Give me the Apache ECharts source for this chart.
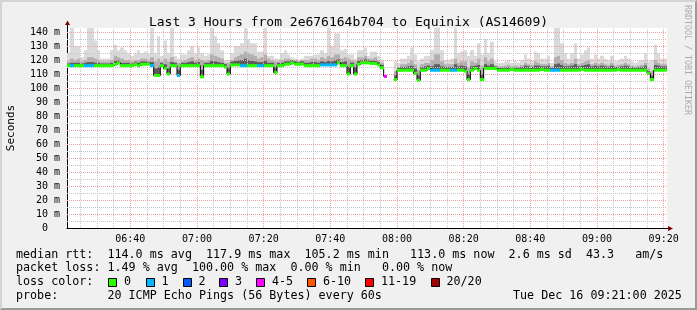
<!DOCTYPE html>
<html><head><meta charset="utf-8">
<script src="https://cdn.jsdelivr.net/npm/echarts@6/dist/echarts.min.js"></script>
<style>
html,body{margin:0;padding:0;background:#f0f0f0;}
#wrap{position:relative;width:697px;height:310px;overflow:hidden;}
#chart{width:697px;height:310px;}
#frame{position:absolute;left:0;top:0;width:697px;height:310px;box-sizing:border-box;border-top:2px solid #d4d4d4;border-left:2px solid #d4d4d4;border-right:2px solid #9a9a9a;border-bottom:2px solid #9a9a9a;pointer-events:none;}
</style></head>
<body><div id="wrap"><div id="chart"></div><div id="frame"></div></div>
<script>
// ---------- data ----------
const titleText = 'Last 3 Hours from 2e676164b704 to Equinix (AS14609)';
const startMinute = 381;   // 06:21, minutes since midnight
const endMinute = 561;     // 09:21
const xTickMinutes = [400, 420, 440, 460, 480, 500, 520, 540, 560];
const yTickValues = [0, 10, 20, 30, 40, 50, 60, 70, 80, 90, 100, 110, 120, 130, 140];
const yMax = 142.9;

// median rtt per minute (ms)
const median = [
  116,116,116,116,116,116,116,116,116,116,
  116,116,116,116,117,118,116,116,116,116,
  117,116,117,117,117,116,109,109,116,114,
  110,116,116,109,116,116,116,116,116,116,
  108,116,116,116,116,116,116,115,110,116.5,
  116.5,116.5,116,116,116,116,116,116,116,116,
  116,116,111,116,116,117,117,118,117,117,
  117,116,116,116,116,116,116.5,116.5,116.5,116.5,
  116.5,118,116,116,110,116,110,117,118,118,
  118,117.5,117.5,116.5,114.5,108.3,null,null,106,112.7,
  112.7,112.7,112.7,112.7,110.5,105.5,112.7,112.7,114,112.7,
  112.7,112.7,112.7,112.7,112.7,112.7,112.7,112.7,112.7,112,
  106,112.7,114,112.7,106,114,114,114,114,112.7,
  112.7,112.7,112.7,113.2,112.7,112.7,112.7,112.7,112.7,112.7,
  112.7,112.7,113.2,112.7,112.7,112.7,112.7,112.7,112.7,112.7,
  112.7,112.7,112.7,112.7,113.2,112.7,112.7,112.7,112.7,112.7,
  112.7,112.7,112.7,112.7,112.7,113.2,112.7,112.7,112.7,112.7,
  112.7,112.7,112.7,112.7,110.5,106,112.7,112.7,112.7,112.7
];
// lost pings (of 20) per minute
const loss = [
  0,1,0,0,0,1,1,1,0,0,
  0,0,0,0,0,0,0,0,0,0,
  0,0,0,0,0,1,0,0,0,0,
  0,0,0,1,0,0,0,0,0,0,
  0,0,0,0,0,0,0,0,0,0,
  0,0,1,1,0,0,0,1,1,0,
  0,0,0,0,0,0,0,0,0,0,
  0,0,0,0,0,0,1,1,1,1,
  1,0,0,0,0,0,0,0,0,0,
  0,0,0,0,0,4,20,20,0,0,
  0,0,0,0,0,0,0,0,0,1,
  1,1,0,0,0,1,1,0,0,0,
  0,0,0,0,0,0,0,0,0,0,
  0,0,0,0,0,0,0,0,0,0,
  0,0,0,0,0,1,1,1,0,0,
  0,0,0,0,0,0,0,0,0,0,
  0,0,0,0,0,0,0,0,0,0,
  0,0,0,0,0,0,0,0,0,0
];
// smoke: highest ping per minute (ms)
const smokeMax = [
  125,143,130,130,122,127,143,143,134,127,
  121,121,121,127,131,127,129,127,125,123,
  125,127,125,126,125,143,125,137,123,134,
  125,143,123,121,124,124,127,130,125,129,
  125,123,124,143,137,132,127,120,120,125,
  130,130,132,143,135,132,132,126,126,143,
  123,123,121,121,125,127,124,122,121,120,
  121,123,123,123,124,124,127,125,143,130,
  139,139,127,128,124,124,121,127,127,129,
  123,126,126,123,120,null,null,null,119,118,
  121,121,123,129,124,119,121,123,123,127,
  143,143,127,120,120,121,143,125,126,127,
  123,127,123,132,124,135,125,133,119,118,
  118,119,120,118,119,118,120,124,121,120,
  126,125,121,121,123,118,143,143,132,125,
  121,125,132,121,124,127,129,121,124,121,
  123,121,120,123,119,120,121,123,121,119,
  118,119,120,125,119,120,131,125,121,121
];
// smoke: upper-middle pings per minute (ms)
const smokeMid = [
  119,121,120,121,119,120,122,122,121,120,
  119,119,119,120,123,122,121,120,120,119,
  120,120,121,121,120,122,119,121,119,121,
  119,122,119,118,119,120,121,122,120,121,
  120,119,120,124,123,122,121,118,118,120,
  122,123,124,126,125,124,123,121,122,124,
  121,120,119,119,120,121,121,120,120,119,
  120,120,120,121,121,120,122,121,123,122,
  124,124,121,122,121,120,119,122,122,123,
  121,121,122,120,118,null,null,null,112,115,
  117,117,118,120,117,113,117,118,118,120,
  124,124,119,117,117,117,121,118,119,119,
  115,119,118,121,116,122,119,121,116,115.5,
  115.5,116,116.5,115.5,116,115.5,116.5,118,117,116.5,
  119,118,117,117,118,115.5,122,123,120,118,
  117,118,121,117,118,119,120,117,118,117,
  118,117,116.5,118,116,116.5,117,118,117,116,
  115.5,116,116.5,118,114,112,120,118,117,117
];
// smoke: pings just above the median per minute (ms)
const smokeDark = [
  117.5,118,118,118,117.5,118,118.5,118.5,118,118,
  117.5,117.5,117.5,118,119.5,120,118,118,118,117.5,
  118.5,118,119,119,118.5,118.5,114,115,118,117,
  114,118.5,118,113,118,118,118.5,119,118,118.5,
  113,118,118,119.5,119,118.5,118,117,114,119,
  119.5,120,120,121,120,119.5,119,118.5,118.5,119.5,
  118,118,115,118,118,119,119,120,119,118.5,
  119,118,118,118.5,118.5,118,119,118.5,119.5,119,
  120,120.5,118.5,119,115,118,115,119.5,120,120.5,
  120,119.5,119.5,118.5,116.5,null,null,null,109,114.5,
  115,115,115.5,116,114,109,115,115.5,116,115.5,
  117,117,115.5,115,115,115,117,115.5,116,115.5,
  110,115.5,116,116.5,110,117,116,117,115.5,114.5,
  114.5,114.5,115,114.5,114.5,114.5,115,116,115.5,115,
  116,116,115.5,115.5,116,114.5,117,117.5,116.5,115.5,
  115.5,116,117,115.5,116,116.5,117,115.5,116,115.5,
  116,115.5,115,116,115,115,115.5,116,115.5,115,
  114.5,115,115,116,112,109,116.5,116,115.5,115.5
];
const lossLabels = ['0', '1', '2', '3', '4-5', '6-10', '11-19', '20/20'];
const lossColors = ['#26ff00', '#00b8ff', '#0059ff', '#7e00ff', '#ff00ff', '#ff5500', '#ff0000', '#a10000'];
const statsLines = [
  'median rtt:  114.0 ms avg  117.9 ms max  105.2 ms min   113.0 ms now  2.6 ms sd  43.3   am/s',
  'packet loss: 1.49 % avg  100.00 % max  0.00 % min   0.00 % now',
  'loss color:',
  'probe:       20 ICMP Echo Pings (56 Bytes) every 60s'
];
const dateText = 'Tue Dec 16 09:21:00 2025';
const creditText = 'RRDTOOL / TOBI OETIKER';

// ---------- helpers ----------
const MONO = '"DejaVu Sans Mono", "Liberation Mono", monospace';
function lossClass(l) {
  if (l <= 3) return l;
  if (l <= 5) return 4;
  if (l <= 10) return 5;
  if (l <= 19) return 6;
  return 7;
}
const fmtTime = m => String(Math.floor(m / 60)).padStart(2, '0') + ':' + String(m % 60).padStart(2, '0');

const rows = median.map((m, i) => [startMinute + i, m == null ? '-' : m, smokeMax[i] == null ? '-' : smokeMax[i],
  smokeMid[i] == null ? '-' : smokeMid[i], smokeDark[i] == null ? '-' : smokeDark[i], loss[i]]);
const lineData = median.map((m, i) => [startMinute + i, m]).concat([[endMinute, median[median.length - 1]]]);

function renderSmoke(params, api) {
  const t = api.value(0), med = api.value(1), mx = api.value(2), md = api.value(3), dk = api.value(4);
  if (!isFinite(med) || !isFinite(mx)) return null;
  const cs = params.coordSys;
  const x0 = Math.round(api.coord([t, med])[0]);
  const x1 = Math.round(api.coord([t + 1, med])[0]);
  const yMed = api.coord([t, med])[1];
  const top = v => Math.max(cs.y, api.coord([t, v])[1]);
  const yMx = top(mx), yMd = top(md), yDk = top(dk);
  return {
    type: 'group',
    children: [
      { type: 'rect', shape: { x: x0, y: yMx, width: x1 - x0, height: yMed - yMx }, style: { fill: '#dadada' } },
      { type: 'rect', shape: { x: x0, y: yMd, width: x1 - x0, height: yMed - yMd }, style: { fill: '#b0b0b0' } },
      { type: 'rect', shape: { x: x0, y: yDk, width: x1 - x0, height: yMed - yDk }, style: { fill: '#5c5c5c' } }
    ]
  };
}
function renderBand(params, api) {
  const t = api.value(0), med = api.value(1), l = api.value(5);
  if (!isFinite(med)) return null;
  const p0 = api.coord([t, med]), p1 = api.coord([t + 1, med]);
  const x0 = Math.round(p0[0]), x1 = Math.round(p1[0]);
  return { type: 'rect', shape: { x: x0, y: p0[1] - 1.5, width: x1 - x0, height: 3 },
    style: { fill: lossColors[lossClass(l)] } };
}

const xMinor = [], xMajor = [], yMinor = [], yMajor = [];
for (let m = 385; m < endMinute; m += 5) (m % 20 === 0 ? xMajor : xMinor).push(m);
for (let v = 5; v < yMax; v += 5) (v % 10 === 0 ? yMajor : yMinor).push(v);
const gridLine = (xs, ys, color) => ({
  type: 'line', data: [], silent: true, z: 2,
  markLine: {
    silent: true, symbol: ['none', 'none'], label: { show: false }, animation: false, z: 2,
    lineStyle: { color: color, width: 1, type: [1, 1], opacity: 1 },
    emphasis: { disabled: true },
    data: xs.map(v => ({ xAxis: v })).concat(ys.map(v => ({ yAxis: v })))
  }
});

const option = {
  animation: false,
  backgroundColor: '#f0f0f0',
  title: {
    text: titleText, left: 'center', top: 11,
    textStyle: { fontFamily: MONO, fontSize: 13, fontWeight: 'normal', color: '#000' }
  },
  grid: { left: 67, right: 30, top: 28, bottom: 82, show: true, backgroundColor: '#ffffff', borderWidth: 0,
    containLabel: false, outerBoundsMode: 'none' },
  xAxis: {
    type: 'value', min: startMinute, max: endMinute,
    axisLine: { show: true, lineStyle: { color: '#000', width: 1 } },
    axisTick: { show: false }, splitLine: { show: false },
    axisLabel: { customValues: xTickMinutes, formatter: v => fmtTime(v), fontFamily: MONO, fontSize: 10, color: '#000', margin: 6 }
  },
  yAxis: {
    type: 'value', min: 0, max: yMax,
    name: 'Seconds', nameLocation: 'middle', nameGap: 50,
    nameTextStyle: { fontFamily: MONO, fontSize: 11, color: '#000' },
    axisLine: { show: true, lineStyle: { color: '#000', width: 1 } },
    axisTick: { show: false }, splitLine: { show: false },
    axisLabel: { customValues: yTickValues, formatter: v => (v === 0 ? '0  ' : v + ' m'), fontFamily: MONO, fontSize: 10, color: '#000', margin: 7 }
  },
  series: [
    { type: 'custom', name: 'smoke', z: 1, renderItem: renderSmoke, data: rows, silent: true },
    gridLine(xMinor, yMinor, '#c6c6c6'),
    gridLine(xMajor, yMajor, '#eea3a3'),
    { type: 'line', name: 'median', z: 3, step: 'end', data: lineData, symbol: 'none', connectNulls: false,
      lineStyle: { color: '#000', width: 1 }, silent: true },
    { type: 'custom', name: 'loss', z: 4, renderItem: renderBand, data: rows, silent: true }
  ]
};

const chart = echarts.init(document.getElementById('chart'), null, { width: 697, height: 310 });
chart.setOption(option);

const o = chart.convertToPixel({ gridIndex: 0 }, [endMinute, 0]);
const tp = chart.convertToPixel({ gridIndex: 0 }, [startMinute, yMax]);
const ox = Math.round(o[0]), oy = Math.round(o[1]) + 0.5;
const tx = Math.round(tp[0]) + 0.5, ty = Math.round(tp[1]);
const graphics = [
  { type: 'line', shape: { x1: ox, y1: oy, x2: ox + 2, y2: oy }, style: { stroke: '#000', lineWidth: 1 } },
  { type: 'polygon', shape: { points: [[ox + 1, oy - 2.5], [ox + 6, oy], [ox + 1, oy + 2.5]] }, style: { fill: '#7f0000' } },
  { type: 'line', shape: { x1: tx, y1: ty, x2: tx, y2: ty - 3 }, style: { stroke: '#000', lineWidth: 1 } },
  { type: 'polygon', shape: { points: [[tx - 2.5, ty - 3], [tx, ty - 7.5], [tx + 2.5, ty - 3]] }, style: { fill: '#7f0000' } },
  { type: 'text', x: 687, y: 60, rotation: -Math.PI / 2,
    style: { text: creditText, font: '8.3px ' + MONO, fill: '#ababab', align: 'center', verticalAlign: 'middle', textAlign: 'center', textVerticalAlign: 'middle' } }
];
const lineY = [254.5, 268, 282.3, 296];
statsLines.forEach((s, k) => graphics.push({
  type: 'text', x: 16, y: lineY[k],
  style: { text: s, font: '11.7px ' + MONO, fill: '#000', verticalAlign: 'middle', textVerticalAlign: 'middle' }
}));
graphics.push({ type: 'text', x: 513, y: lineY[3],
  style: { text: dateText, font: '11.7px ' + MONO, fill: '#000', verticalAlign: 'middle', textVerticalAlign: 'middle' } });
const boxX = [108, 145.5, 182.5, 219, 256, 307, 365, 430.5];
lossLabels.forEach((lab, k) => {
  graphics.push({ type: 'rect', shape: { x: Math.round(boxX[k]) + 0.5, y: 278.5, width: 8, height: 8 },
    style: { fill: lossColors[k], stroke: '#000', lineWidth: 1 } });
  graphics.push({ type: 'text', x: boxX[k] + 16, y: lineY[2],
    style: { text: lab, font: '11.7px ' + MONO, fill: '#000', verticalAlign: 'middle', textVerticalAlign: 'middle' } });
});
chart.setOption({ graphic: graphics });
</script>
</body></html>
